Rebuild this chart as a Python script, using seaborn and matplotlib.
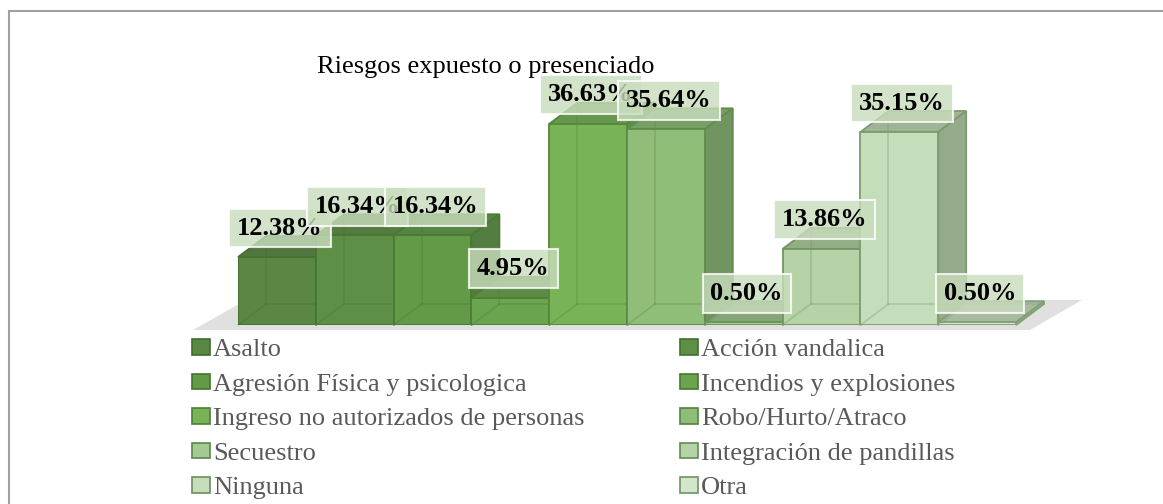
import matplotlib
matplotlib.use("Agg")
import matplotlib.pyplot as plt
import matplotlib.colors as mcolors
from matplotlib.patches import Polygon, Rectangle, Patch
import seaborn as sns
import pandas as pd
import numpy as np

categorias = ["Asalto", "Acción vandalica", "Agresión Física y psicologica",
              "Incendios y explosiones", "Ingreso no autorizados de personas",
              "Robo/Hurto/Atraco", "Secuestro", "Integración de pandillas",
              "Ninguna", "Otra"]
porcentajes = [12.38, 16.34, 16.34, 4.95, 36.63, 35.64, 0.50, 13.86, 35.15, 0.50]
etiquetas = [f"{v:.2f}%" for v in porcentajes]
colores = ["#5a8743", "#5e8f46", "#629a48", "#6aa44f", "#78b358",
           "#8fbe78", "#a4ca93", "#b5d3a7", "#c5ddba", "#d3e6ca"]

W, H = 1163, 504
sns.set_style("white")
plt.rcParams["font.family"] = ["Liberation Serif", "DejaVu Serif"]


def mezcla(c, otro, t):
    a = np.array(mcolors.to_rgb(c))
    b = np.array(mcolors.to_rgb(otro))
    return tuple(a * (1 - t) + b * t)


fig = plt.figure(figsize=(W / 100, H / 100), dpi=100)
ax_w, ax_h = 778, 274.5
ax = fig.add_axes([238 / W, 1 - 325 / H, ax_w / W, ax_h / H])

df = pd.DataFrame({"riesgo": categorias, "pct": porcentajes})
sns.barplot(data=df, x="riesgo", y="pct", hue="riesgo", palette=colores,
            width=1, saturation=1, legend=False, ax=ax, linewidth=1.3)
ax.set_xlim(-0.5, len(categorias) - 0.5)
ax.set_ylim(0, 50)
ax.set_axis_off()

# profundidad 3D en unidades de datos
ppx = ax_w / len(categorias)
ppy = ax_h / 50
dx, dy = 28 / ppx, 21 / ppy

# piso (sombra gris)
x_ini, x_fin = -0.5, len(categorias) - 0.5
piso = Polygon([(x_ini - 45 / ppx, -5 / ppy), (x_fin + 14 / ppx, -5 / ppy),
                (x_fin + 66 / ppx, 25 / ppy), (x_ini + 8 / ppx, 25 / ppy)],
               closed=True, fc="#e0e0e0", ec="none", zorder=0, clip_on=False)
ax.add_patch(piso)

barras = [b for cont in ax.containers for b in cont]
for i, (bar, col) in enumerate(zip(barras, colores)):
    borde = mezcla(col, "#2f5a1f", 0.5)
    x0 = bar.get_x()
    x1 = x0 + bar.get_width()
    h = bar.get_height()
    z = 2 + 2 * i
    bar.set_facecolor(col)
    bar.set_edgecolor(borde)
    bar.set_zorder(z + 1)
    tapa = Polygon([(x0, h), (x1, h), (x1 + dx, h + dy), (x0 + dx, h + dy)],
                   closed=True, fc=mezcla(col, "#3a4a34", 0.28), ec=borde,
                   lw=1.3, zorder=z, clip_on=False)
    lado = Polygon([(x1, 0), (x1 + dx, dy), (x1 + dx, h + dy), (x1, h)],
                   closed=True, fc=mezcla(col, "#3a4a34", 0.35), ec=borde,
                   lw=1.3, zorder=z, clip_on=False)
    ax.add_patch(tapa)
    ax.add_patch(lado)
    # aristas traseras vistas por transparencia
    for xs, ys in [([x0, x0 + dx], [0, dy]),
                   ([x0 + dx, x0 + dx], [dy, h + dy]),
                   ([x0 + dx, x1 + dx], [dy, dy])]:
        ax.plot(xs, ys, color=borde, lw=1.2, alpha=0.35, zorder=z + 1.5,
                clip_on=False)
    ax.annotate(etiquetas[i], xy=(x0 + bar.get_width() / 2, h),
                xytext=(3, 29), textcoords="offset pixels",
                ha="center", va="center", fontsize=19, fontweight="bold",
                color="black", zorder=60,
                bbox=dict(boxstyle="square,pad=0.3", fc="#c9ddbd",
                          ec="white", lw=1.5, alpha=0.8))

fig.text(317 / W, 1 - 73 / H, "Riesgos expuesto o presenciado",
         fontsize=19, ha="left", va="baseline", color="black")

manijas = [Patch(facecolor=c, edgecolor=mezcla(c, "#2f5a1f", 0.6), lw=1.2)
           for c in colores]
for col_idx, x_px in [(0, 192), (1, 680)]:
    idx = list(range(col_idx, len(categorias), 2))
    fig.legend(handles=[manijas[k] for k in idx],
               labels=[categorias[k] for k in idx],
               loc="upper left", bbox_to_anchor=(x_px / W, 1 - 339 / H),
               frameon=False, borderpad=0, borderaxespad=0,
               handlelength=0.68, handleheight=0.53, handletextpad=0.12,
               labelspacing=0.47, fontsize=19, labelcolor="#595959")

marco = Rectangle((9 / W, -0.05), 1.2, 1 - 11 / H + 0.05,
                  transform=fig.transFigure, fill=False, ec="#a0a0a0", lw=1.5)
fig.add_artist(marco)

fig.savefig("out.png", dpi=100)
